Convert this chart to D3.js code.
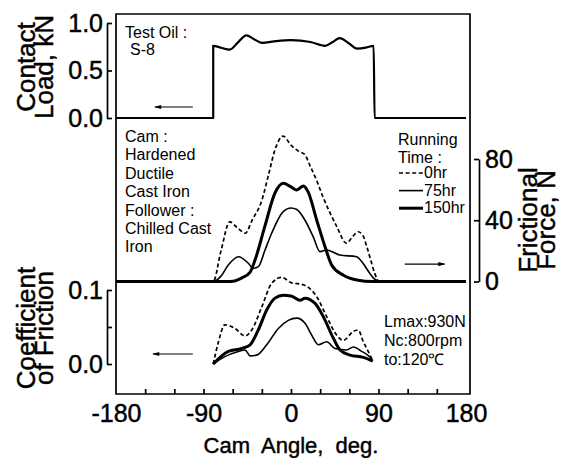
<!DOCTYPE html>
<html>
<head>
<meta charset="utf-8">
<script src="https://cdn.jsdelivr.net/npm/d3@7"></script>
<style>
  body { margin: 0; background: #fff; }
  text { font-family: "Liberation Sans", Arial, Helvetica, sans-serif; fill: #000; }
  .big { stroke: #000; stroke-width: 0.45; }
</style>
</head>
<body>
<div id="chart"></div>
<script>
let svgWidth = 564;
let svgHeight = 458;

// Data =========================

// contact load, kN
let loadAngle = [-180, -80, -80, -72, -63, -55, -46, -38, -30, -15, 0, 20, 35, 43, 50, 59, 68, 77, 85, 86, 180];
let loadValue = [0, 0, 0.76, 0.74, 0.72, 0.79, 0.87, 0.83, 0.79, 0.81, 0.82, 0.80, 0.76, 0.80, 0.84, 0.79, 0.73, 0.74, 0.76, 0, 0];

// frictional force, N
let force0Angle = [-180, -80, -72, -63, -55, -47, -40, -30, -23, -16.5, -8, 0, 8, 14, 20, 27, 33, 40, 47, 57, 63, 69, 74, 78, 82, 86, 91, 180];
let force0Value = [0, 0, 20, 39, 35, 31.5, 40, 53, 70, 86, 95, 89, 85, 83, 75, 65, 55, 45, 36, 25, 29, 32.5, 30, 22.7, 14, 5.5, 0, 0];

let force75Angle = [-180, -80, -72, -64.5, -54, -44, -39, -33.6, -26.7, -19.9, -8, 0, 6, 14.4, 23, 29.8, 36.7, 50, 67.6, 72.7, 81, 86, 92, 180];
let force75Value = [0, 0, 3.5, 10.8, 16.2, 12, 8.6, 9.7, 20.6, 31.5, 45.6, 48, 47, 40, 29, 19.5, 20.6, 17.3, 16.2, 13, 5.4, 1.5, 0, 0];

let force150Angle = [-180, -62, -51, -42, -37, -27, -16.5, -8, 0, 6, 12.7, 17.5, 26.4, 35, 41.8, 53.5, 67.6, 84, 180];
let force150Value = [0, 0, 2.2, 6.2, 14, 35.8, 57.8, 64.2, 61.8, 59.8, 62.4, 58.7, 40.2, 22.7, 10.8, 4.2, 1, 0, 0];

// coefficient of friction
let cof0Angle = [-80, -75, -68, -57.6, -47.3, -40.4, -30.1, -19.9, -9.6, 0, 12.7, 26.4, 36.7, 47, 53.8, 64, 69, 74.4, 81.3, 84];
let cof0Value = [0, 0.028, 0.053, 0.048, 0.038, 0.046, 0.077, 0.109, 0.117, 0.110, 0.107, 0.091, 0.064, 0.039, 0.032, 0.044, 0.046, 0.030, 0.012, 0.004];

let cof75Angle = [-80, -68, -54.2, -47.3, -42, -35.3, -25, -13, -2.8, 5.9, 14.4, 21.3, 28.1, 36.7, 45.3, 57.3, 64.1, 72.7, 81.3, 84];
let cof75Value = [0, 0.010, 0.017, 0.019, 0.011, 0.012, 0.026, 0.048, 0.059, 0.062, 0.055, 0.039, 0.026, 0.030, 0.021, 0.019, 0.023, 0.017, 0.009, 0.004];

let cof150Angle = [-80, -64.5, -50.7, -42, -33.6, -25, -16.5, -7.9, 0, 9.3, 14.4, 24.7, 33.2, 43.5, 50.4, 60.7, 74.4, 84];
let cof150Value = [0, 0.017, 0.021, 0.026, 0.046, 0.073, 0.089, 0.093, 0.092, 0.086, 0.089, 0.082, 0.064, 0.035, 0.019, 0.012, 0.009, 0.004];

let angleTicks = [-150, -120, -90, -60, -30, 0, 30, 60, 90, 120, 150];
let angleLabels = [-180, -90, 0, 90, 180];
let loadTicks = [0, 0.5, 1.0];
let forceTicks = [0, 40, 80];
let cofTicks = [0, 0.05, 0.1];
let cofLabels = [0, 0.1];

let legendNames = ["0hr", "75hr", "150hr"];

// Scales =========================

let svg = d3.select("#chart").append("svg").attr("width", svgWidth).attr("height", svgHeight);

let x = d3.scaleLinear().domain([-180, 180]).range([116, 466]);
let yLoad = d3.scaleLinear().domain([0, 1]).range([118, 23]);
let yForce = d3.scaleLinear().domain([0, 80]).range([281.5, 159]);
let yCof = d3.scaleLinear().domain([0, 0.1]).range([364, 290]);

let frame = { left: 116, right: 470, top: 14, bottom: 394 };

// frame
svg.append("path")
  .attr("d", `M${frame.left},${frame.bottom}V${frame.top}H${frame.right}V${frame.bottom}Z`)
  .attr("fill", "none")
  .attr("stroke", "#000")
  .attr("stroke-width", 1.7);

// Lines =========================

let styles = {
  load: { w: 2.2, dash: null },
  d0: { w: 1.7, dash: "4,2.6" },
  d75: { w: 1.6, dash: null },
  d150: { w: 3, dash: null }
};

let drawLine = (angles, values, yScale, style) => {
  let pts = angles.map((a, i) => [a, values[i]]);
  let line = d3.line()
    .x(d => x(d[0]))
    .y(d => yScale(d[1]))
    .curve(d3.curveMonotoneX);
  svg.append("path")
    .datum(pts)
    .attr("d", line)
    .attr("fill", "none")
    .attr("stroke", "#000")
    .attr("stroke-width", style.w)
    .attr("stroke-linejoin", "round")
    .attr("stroke-dasharray", style.dash);
}

drawLine(loadAngle, loadValue, yLoad, styles.load);
drawLine(force0Angle, force0Value, yForce, styles.d0);
drawLine(force75Angle, force75Value, yForce, styles.d75);
drawLine(force150Angle, force150Value, yForce, styles.d150);
drawLine(cof0Angle, cof0Value, yCof, styles.d0);
drawLine(cof75Angle, cof75Value, yCof, styles.d75);
drawLine(cof150Angle, cof150Value, yCof, styles.d150);

// Axes =========================

let styleAxis = (g, size) => {
  g.selectAll("path.domain").attr("stroke-width", 1.7);
  g.selectAll(".tick line").attr("stroke-width", 1.7);
  g.selectAll("text")
    .attr("class", "big")
    .attr("font-family", '"Liberation Sans", Arial, sans-serif')
    .attr("font-size", size);
  g.attr("font-family", null).attr("font-size", null);
}

let loadAxis = svg.append("g")
  .attr("transform", "translate(107,0)")
  .call(d3.axisLeft(yLoad).tickValues(loadTicks).tickSizeInner(-5).tickSizeOuter(0).tickPadding(4)
    .tickFormat(d3.format(".1f")));
styleAxis(loadAxis, 25);

let cofAxis = svg.append("g")
  .attr("transform", "translate(107,0)")
  .call(d3.axisLeft(yCof).tickValues(cofTicks).tickSizeInner(-5).tickSizeOuter(0).tickPadding(4)
    .tickFormat(d => cofLabels.includes(d) ? d3.format(".1f")(d) : ""));
styleAxis(cofAxis, 25);

let forceAxis = svg.append("g")
  .attr("transform", "translate(479,0)")
  .call(d3.axisRight(yForce).tickValues(forceTicks).tickSizeInner(-5).tickSizeOuter(0).tickPadding(6)
    .tickFormat(d => String(d)));
styleAxis(forceAxis, 25);

let xTickAxis = svg.append("g")
  .attr("transform", `translate(0,${frame.bottom})`)
  .call(d3.axisBottom(x).tickValues(angleTicks).tickSizeInner(-5).tickSizeOuter(0).tickFormat(""));
xTickAxis.select("path.domain").remove();
styleAxis(xTickAxis, 25);

// plain hyphen for negatives, as in the original
let xLabelAxis = svg.append("g")
  .attr("transform", `translate(0,${frame.bottom})`)
  .call(d3.axisBottom(x).tickValues(angleLabels).tickSize(0).tickPadding(10)
    .tickFormat(d => String(d)));
xLabelAxis.select("path.domain").remove();
styleAxis(xLabelAxis, 25);

// Titles =========================

let vTitle = (lines, cx, cy, size) => {
  let t = svg.append("text")
    .attr("class", "big")
    .attr("transform", `translate(${cx},${cy}) rotate(-90)`)
    .attr("text-anchor", "middle")
    .attr("font-size", size);
  lines.forEach((s, i) => {
    t.append("tspan").attr("x", 0).attr("y", i * 18).text(s);
  });
}

vTitle(["Contact", "Load, kN"], 35, 67, 26);
vTitle(["Coefficient", "of Friction"], 35, 328, 26);
vTitle(["Frictional", "Force, N"], 537, 220, 26);

svg.append("text")
  .attr("class", "big")
  .attr("x", x(0))
  .attr("y", 453)
  .attr("text-anchor", "middle")
  .attr("font-size", 22)
  .attr("xml:space", "preserve")
  .style("white-space", "pre")
  .text("Cam  Angle,  deg.");

// Notes =========================

let note = (lines, x0, y0, step) => {
  let t = svg.append("text").attr("font-size", 16);
  lines.forEach((s, i) => {
    t.append("tspan").attr("x", x0).attr("y", y0 + i * step).text(s);
  });
}

note(["Test Oil :"], 125, 38, 18);
note(["S-8"], 130, 55, 18);
note(["Cam :", "Hardened", "Ductile", "Cast Iron", "Follower :", "Chilled Cast", "Iron"], 125, 142, 18.4);
note(["Running", "Time :"], 398, 145, 18);
note(["Lmax:930N", "Nc:800rpm", "to:120\u2103"], 384, 327, 19);

// legend
let legendStyles = [styles.d0, styles.d75, styles.d150];
legendNames.forEach((name, i) => {
  let ly = 178 + i * 17.6;
  svg.append("line")
    .attr("x1", 399).attr("x2", 423)
    .attr("y1", ly - 5).attr("y2", ly - 5)
    .attr("stroke", "#000")
    .attr("stroke-width", legendStyles[i].w)
    .attr("stroke-dasharray", legendStyles[i].dash);
  svg.append("text")
    .attr("x", 424)
    .attr("y", ly)
    .attr("font-size", 16)
    .text(name);
});

// arrows
let defs = svg.append("defs");
defs.append("marker")
  .attr("id", "head")
  .attr("viewBox", "0 0 10 10")
  .attr("refX", 9).attr("refY", 5)
  .attr("markerWidth", 9).attr("markerHeight", 7)
  .attr("markerUnits", "userSpaceOnUse")
  .attr("orient", "auto")
  .append("path")
  .attr("d", "M0,2L10,5L0,8Z")
  .attr("fill", "#000");

let arrow = (a1, a2, yv, yScale) => {
  svg.append("line")
    .attr("x1", x(a1)).attr("x2", x(a2))
    .attr("y1", yScale(yv)).attr("y2", yScale(yv))
    .attr("stroke", "#000")
    .attr("stroke-width", 1.2)
    .attr("marker-end", "url(#head)");
}

arrow(-101, -140, 0.116, yLoad);
arrow(117, 158, 11.4, yForce);
arrow(-101, -142, 0.0135, yCof);
</script>
</body>
</html>
